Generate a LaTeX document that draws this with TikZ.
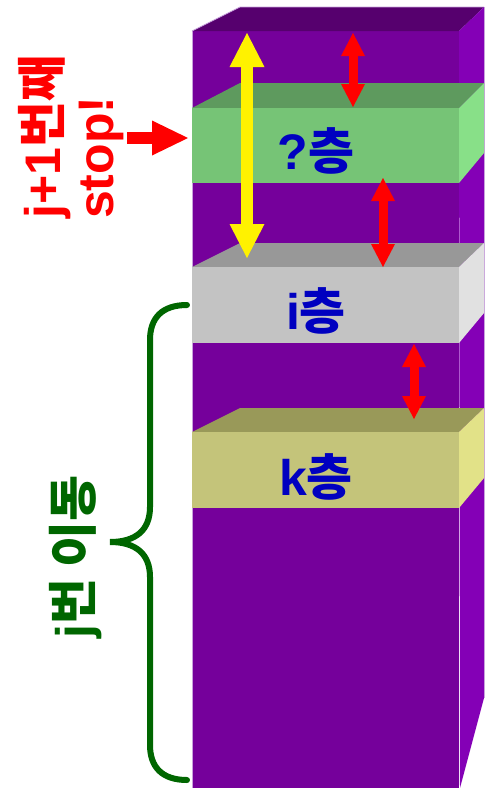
\documentclass[tikz,border=0pt]{standalone}
\usepackage{fontspec}
\setmainfont{Liberation Sans}
\newfontfamily\kr{Noto Sans CJK KR}
\usetikzlibrary{arrows.meta}
\definecolor{pfront}{HTML}{75009B}
\definecolor{ptop}{HTML}{56006E}
\definecolor{pside}{HTML}{8400B6}
\definecolor{pline}{HTML}{C8A2DC}
\definecolor{gfront}{HTML}{76C476}
\definecolor{gtop}{HTML}{5E9A5E}
\definecolor{gside}{HTML}{88E088}
\definecolor{sfront}{HTML}{C3C3C3}
\definecolor{stop}{HTML}{989898}
\definecolor{sside}{HTML}{E1E1E1}
\definecolor{kfront}{HTML}{C4C47A}
\definecolor{ktop}{HTML}{999959}
\definecolor{kside}{HTML}{E2E288}
\definecolor{labblue}{HTML}{0000C0}
\definecolor{dgreen}{HTML}{006600}
\tikzset{
  face/.style={line width=0.6pt, line join=round},
  label/.style={font=\fontsize{50}{55}\selectfont\bfseries, text=labblue, inner sep=0pt},
  redarrow/.style={draw=red, line width=9pt, {Triangle[width=24pt,length=23pt,line width=0pt]}-{Triangle[width=24pt,length=23pt,line width=0pt]}},
  yelarrow/.style={draw=yellow, line width=12pt, {Triangle[width=35pt,length=34pt,line width=0pt]}-{Triangle[width=35pt,length=34pt,line width=0pt]}},
  bigarrow/.style={draw=red, line width=12pt, -{Triangle[width=35pt,length=36pt,line width=0pt]}},
  sidetext/.style={font=\fontsize{50}{53}\selectfont\bfseries, rotate=90, inner sep=0pt}
}
\begin{document}
\begin{tikzpicture}[x=1pt,y=-1pt]
\useasboundingbox (0,0) rectangle (489,788);
% tower
\fill[pfront] (192,31) rectangle (459,788);
\draw[pline, line width=1pt] (192.5,788) -- (192.5,31);
\fill[ptop] (192,31) -- (240,7) -- (484,7) -- (459,31) -- cycle;
\draw[pline, line width=0.8pt] (192,31) -- (240,7) -- (484,7);
\fill[pside] (459,31) -- (484,7) -- (484,698) -- (460,788) -- cycle;
\draw[pline, line width=0.8pt] (484,7) -- (484,698);
% green slab
\fill[gtop] (192,108) -- (240,83) -- (484,83) -- (459,108) -- cycle;
\fill[gfront] (192,108) rectangle (459,183);
\fill[gside] (459,108) -- (484,83) -- (484,153) -- (459,183) -- cycle;
% gray slab
\fill[stop] (192,267) -- (240,243) -- (484,243) -- (459,267) -- cycle;
\fill[sfront] (192,267) rectangle (459,343);
\fill[sside] (459,267) -- (484,243) -- (484,313) -- (459,343) -- cycle;
% khaki slab
\fill[ktop] (192,432) -- (240,408) -- (484,408) -- (459,432) -- cycle;
\fill[kfront] (192,432) rectangle (459,508);
\fill[kside] (459,432) -- (484,408) -- (484,478) -- (459,508) -- cycle;
% labels
\node[label] (q) at (316,151) {?{\kr 층}};
\node[label] (i) at (316,311) {i{\kr 층}};
\node[label] (k) at (316,477) {k{\kr 층}};
% arrow end points
\coordinate (y1) at (247,33);
\coordinate (y2) at (247,258);
\coordinate (r1a) at (353,33);
\coordinate (r1b) at (353,107);
\coordinate (r2a) at (383,178);
\coordinate (r2b) at (383,267);
\coordinate (r3a) at (414,344);
\coordinate (r3b) at (414,419);
\coordinate (ba) at (127,138);
\coordinate (bb) at (188,138);
\draw[yelarrow] (y1) -- (y2);
\draw[redarrow] (r1a) -- (r1b);
\draw[redarrow] (r2a) -- (r2b);
\draw[redarrow] (r3a) -- (r3b);
\draw[bigarrow] (ba) -- (bb);
% red text
\node[sidetext, text=red, align=left, anchor=west] (stoptext) at (71,219) {j+1{\kr 번째}\\stop!};
% green brace
\coordinate (bt) at (187,305);
\coordinate (bm) at (110,542);
\coordinate (bbt) at (187,780);
\draw[dgreen, line width=6pt, line cap=round]
  (bt) .. controls (162,305) and (150,318) .. (150,340) -- (150,507)
  .. controls (150,530) and (136,542) .. (bm)
  .. controls (136,542) and (150,554) .. (150,577) -- (150,745)
  .. controls (150,767) and (162,780) .. (bbt);
\node[sidetext, text=dgreen] (jtext) at (76,557) {j{\kr 번 이동}};
\end{tikzpicture}
\end{document}
